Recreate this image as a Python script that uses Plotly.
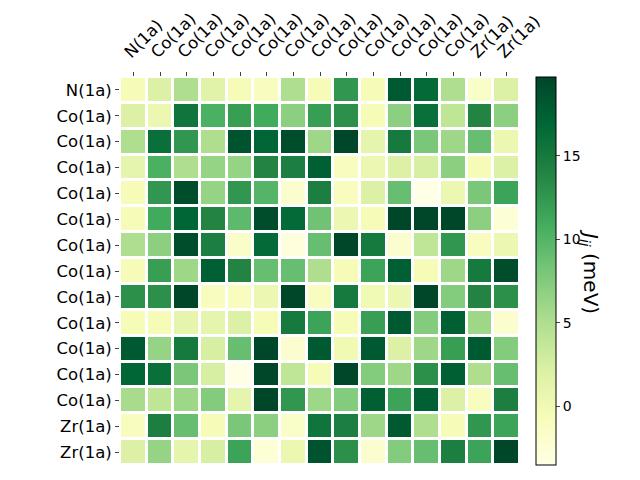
import plotly.graph_objects as go

# site labels (rows and columns)
labels = ["N(1a)"] + ["Co(1a)"] * 12 + ["Zr(1a)"] * 2

# exchange couplings J_ij in meV
J = [
    [-0.5, 2, 5, 1.5, -0.5, -1, 5, -0.5, 12.5, -0.5, 18, 16.5, 5, -1.5, 2],
    [2, 0.5, 15.5, 10.5, 12, 11, 7, 12, 13, -0.5, 7, 16, 4, 14, 7],
    [5, 16, 12.5, 5, 18.5, 17, 19, 6, 19.5, 1, 15, 8, 6, 9, 0.5],
    [1, 10.5, 5, 6.5, 6.5, 14, 14.5, 17.5, -1, 0.5, 2, 2.5, 7, -0.5, 2],
    [-0.5, 12.5, 19, 6.5, 12.5, 10, -2, 14.5, -1, 2, 9, -3.5, 0.5, 8, 11.5],
    [-0.5, 11, 17, 14, 9.5, 19, 16.5, 8.5, 0.5, -0.5, 19.5, 19.5, 19.5, 7, -2.5],
    [5, 7, 19, 14.5, -1.5, 16.5, -3, 9, 19.5, 15, -2, 4, 12.5, -1, 0.5],
    [-0.5, 12, 6, 17.5, 14, 9, 9, 5, -0.5, 11.5, 17.5, -0.5, 6, 15, 19],
    [13, 13, 19.5, -1, -1, 0.5, 19.5, -1, 15, 0, 0.5, 19.5, 7.5, 14, 13],
    [-0.5, -0.5, 1, 1, 2, -0.5, 15, 11.5, -0.5, 12, 18, 7.5, 17.5, 6, -2],
    [18, 6.5, 15, 2.5, 9, 19.5, -2, 18, 0, 18, 2, 6, 12, 18, 7.5],
    [17, 16, 8, 2.5, -3.5, 19.5, 4, -0.5, 19.5, 7.5, 6, 13, 17.5, 5, 9],
    [5.5, 4, 6, 7.5, 1, 19.5, 12.5, 6, 7.5, 17.5, 11.5, 17.5, 2, -1, 14.5],
    [-1, 14.5, 9, -0.5, 8, 7, -1.5, 15.5, 14.5, 6, 18, 5, -0.5, 12.5, 11.5],
    [2, 6.5, 1, 2.5, 11.5, -2.5, 0.5, 18.5, 13, -2, 7.5, 9, 14.5, 11.5, 19.5],
]

idx = list(range(len(labels)))

fig = go.Figure(go.Heatmap(
    z=J, x=idx, y=idx,
    colorscale="YlGn", zmin=-3.5, zmax=19.7,
    xgap=3, ygap=3,
    colorbar=dict(
        x=1.04, xanchor="left", xpad=0, y=0.5, yanchor="middle", ypad=0,
        len=1.0, lenmode="fraction", thickness=20,
        outlinecolor="black", outlinewidth=1,
        tickvals=[0, 5, 10, 15], ticks="outside", ticklen=4,
        tickfont=dict(size=14, color="black"),
    ),
))

fig.update_xaxes(
    side="top", tickvals=idx, ticktext=labels, tickangle=-45,
    ticks="outside", ticklen=4, showgrid=False, zeroline=False,
    automargin=False, range=[-0.5, 14.5],
    ticklabelshift=-8, ticklabelstandoff=4,
    tickfont=dict(size=16.5, color="black"),
)
fig.update_yaxes(
    tickvals=idx, ticktext=labels, autorange=False, range=[14.5, -0.5],
    ticks="outside", ticklen=4, showgrid=False, zeroline=False,
    automargin=False, tickfont=dict(size=16.5, color="black"),
)

fig.add_annotation(
    text="<i>J</i><sub><i>ij</i></sub> (meV)", textangle=90,
    x=1.2125, y=0.5, xref="paper", yref="paper", showarrow=False,
    font=dict(size=20, color="black"),
)

# the page body adds 8px on the left and top, so margins are offset
fig.update_layout(
    width=640, height=480,
    margin=dict(l=112, r=128, t=69, b=23, autoexpand=False),
    plot_bgcolor="white", paper_bgcolor="white",
    font=dict(family="DejaVu Sans"),
)

fig.write_html("out.html")
